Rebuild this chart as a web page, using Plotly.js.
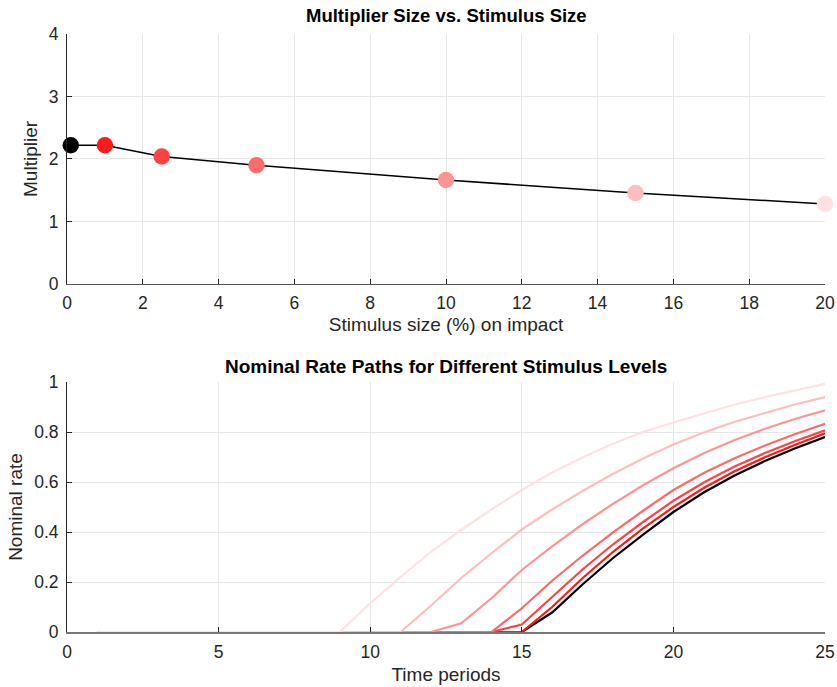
<!DOCTYPE html>
<html>
<head>
<meta charset="utf-8">
<script src="https://cdn.plot.ly/plotly-3.0.1.min.js"></script>
<style>body{margin:0;padding:0;background:#fff;} #chart{width:837px;height:687px;}</style>
</head>
<body>
<div id="chart"></div>
<script>
// Top panel data
const stimulusSizes = [0.1, 1, 2.5, 5, 10, 15, 20];
const multipliers = [2.22, 2.22, 2.04, 1.90, 1.664, 1.456, 1.28];
const levelColors = ['#000000', '#ff1a1a', '#ff4242', '#ff6a6a', '#ff9494', '#ffbebe', '#ffe1e1'];

// Bottom panel data
const timePeriods = [1,2,3,4,5,6,7,8,9,10,11,12,13,14,15,16,17,18,19,20,21,22,23,24,25];
const rateStim0 = [0,0,0,0,0,0,0,0,0,0,0,0,0,0,0,0.078,0.19,0.295,0.39,0.48,0.558,0.625,0.683,0.734,0.78];
const rateStim1 = [0,0,0,0,0,0,0,0,0,0,0,0,0,0,0,0.10,0.215,0.32,0.415,0.50,0.576,0.642,0.698,0.748,0.795];
const rateStim2 = [0,0,0,0,0,0,0,0,0,0,0,0,0,0,0.03,0.14,0.25,0.35,0.44,0.525,0.598,0.661,0.715,0.763,0.807];
const rateStim5 = [0,0,0,0,0,0,0,0,0,0,0,0,0,0,0.095,0.205,0.305,0.398,0.485,0.568,0.636,0.694,0.745,0.791,0.833];
const rateStim10 = [0,0,0,0,0,0,0,0,0,0,0,0,0.035,0.135,0.248,0.343,0.431,0.512,0.587,0.655,0.715,0.767,0.812,0.852,0.887];
const rateStim15 = [0,0,0,0,0,0,0,0,0,0,0,0.105,0.216,0.315,0.41,0.49,0.564,0.632,0.694,0.75,0.798,0.84,0.876,0.91,0.94];
const rateStim20 = [0,0,0,0,0,0,0,0,0,0.115,0.22,0.32,0.408,0.49,0.568,0.638,0.698,0.753,0.80,0.838,0.875,0.909,0.939,0.967,0.993];
const ratePaths = [rateStim0, rateStim1, rateStim2, rateStim5, rateStim10, rateStim15, rateStim20];

const xTicksTop = [0,2,4,6,8,10,12,14,16,18,20];
const yTicksTop = [0,1,2,3,4];
const xTicksBottom = [0,5,10,15,20,25];
const yTicksBottom = [0,0.2,0.4,0.6,0.8,1];

const FONT = 'Liberation Sans, Arial, sans-serif';
const AX = '#262626';
const TICK_SIZE = 17.5;
const LABEL_SIZE = 19;
const TITLE_SIZE = 18.5;

const traces = [];
traces.push({
  x: stimulusSizes, y: multipliers, xaxis: 'x', yaxis: 'y',
  mode: 'lines', line: {color: '#000', width: 1.6}, hoverinfo: 'skip', showlegend: false
});
traces.push({
  x: stimulusSizes, y: multipliers, xaxis: 'x', yaxis: 'y', cliponaxis: false,
  mode: 'markers', marker: {color: levelColors, size: 16.5, line: {width: 0}}, showlegend: false
});
ratePaths.forEach((p, i) => {
  traces.push({
    x: timePeriods, y: p, xaxis: 'x2', yaxis: 'y2',
    mode: 'lines', line: {color: levelColors[i], width: 2.2}, showlegend: false
  });
});

const axBase = {
  showgrid: true, gridcolor: '#e6e6e6', gridwidth: 1,
  zeroline: false, showline: true, linecolor: AX, linewidth: 1,
  ticks: 'inside', ticklen: 5, tickcolor: AX, tickwidth: 1,
  tickfont: {family: FONT, size: TICK_SIZE, color: AX}, fixedrange: true
};

const layout = {
  width: 837, height: 687,
  margin: {l: 67, r: 12, t: 34, b: 55},
  paper_bgcolor: '#fff', plot_bgcolor: '#fff',
  font: {family: FONT, color: AX},
  xaxis: Object.assign({}, axBase, {
    domain: [0, 1], range: [0, 20], tickvals: xTicksTop, ticktext: xTicksTop.map(String),
    anchor: 'y', linecolor: '#555', linewidth: 1.5, ticklabelstandoff: 3,
    title: {text: 'Stimulus size (%) on impact', font: {family: FONT, size: LABEL_SIZE, color: AX}, standoff: 5}
  }),
  yaxis: Object.assign({}, axBase, {
    domain: [0.582, 1], range: [0, 4], tickvals: yTicksTop, ticktext: yTicksTop.map(String),
    anchor: 'x', ticklabelstandoff: 4,
    title: {text: 'Multiplier', font: {family: FONT, size: LABEL_SIZE, color: AX}, standoff: 6}
  }),
  xaxis2: Object.assign({}, axBase, {
    domain: [0, 1], range: [0, 25], tickvals: xTicksBottom, ticktext: xTicksBottom.map(String),
    anchor: 'y2', linecolor: '#777', linewidth: 2, ticklabelstandoff: 3,
    title: {text: 'Time periods', font: {family: FONT, size: LABEL_SIZE, color: AX}, standoff: 7}
  }),
  yaxis2: Object.assign({}, axBase, {
    domain: [0, 0.418], range: [0, 1], tickvals: yTicksBottom, ticktext: yTicksBottom.map(String),
    anchor: 'x2', ticklabelstandoff: 4,
    title: {text: 'Nominal rate', font: {family: FONT, size: LABEL_SIZE, color: AX}, standoff: 6}
  }),
  annotations: [
    {text: '<b>Multiplier Size vs. Stimulus Size</b>', xref: 'paper', yref: 'paper', x: 0.5, y: 1, yshift: 6,
     xanchor: 'center', yanchor: 'bottom', showarrow: false, font: {family: FONT, size: TITLE_SIZE, color: '#000'}},
    {text: '<b>Nominal Rate Paths for Different Stimulus Levels</b>', xref: 'paper', yref: 'paper', x: 0.5, y: 0.418, yshift: 3,
     xanchor: 'center', yanchor: 'bottom', showarrow: false, font: {family: FONT, size: 19, color: '#000'}}
  ]
};

Plotly.newPlot('chart', traces, layout, {displayModeBar: false, staticPlot: true});
</script>
</body>
</html>
